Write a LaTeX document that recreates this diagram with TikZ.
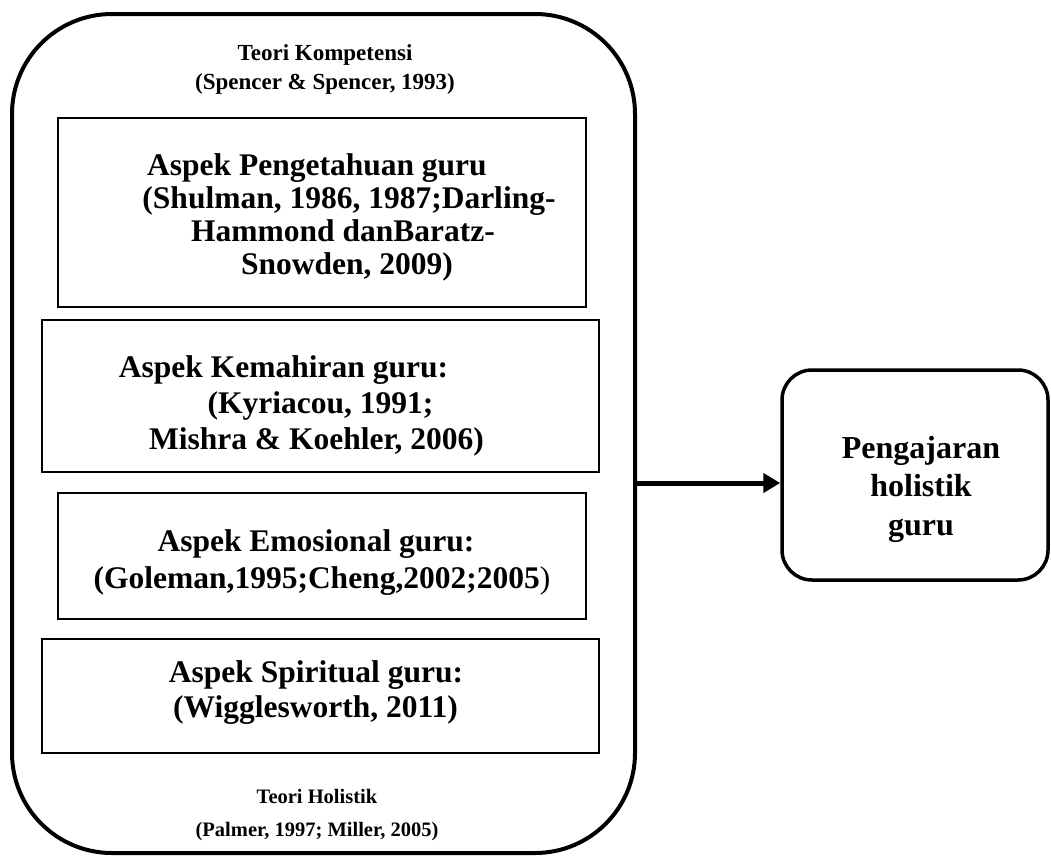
\documentclass[tikz,border=0pt]{standalone}
\usepackage{fontspec}
\setmainfont{Liberation Serif}
\usetikzlibrary{arrows.meta}

\newcommand{\lift}[1]{\rule{0pt}{#1}}
\newcommand{\sink}[1]{\rule[-#1]{0pt}{#1}}

\tikzset{
	aspect/.style = {draw, line width=2.5pt, align=center, inner sep=0pt,
		font=\fontsize{31.5}{33}\selectfont\bfseries},
	caption/.style = {align=center, inner sep=0pt},
	flow/.style = {line width=5pt, -{Triangle[length=17pt,width=19pt]}}
}

\begin{document}
\begin{tikzpicture}[x=1pt, y=-1pt]
	\useasboundingbox (0,0) rectangle (1051,855);
	\node[draw, line width=4pt, rounded corners=100pt, minimum width=623pt, minimum height=839pt] (frame) at (323.5,433.5) {};
	\node[caption, font=\fontsize{23}{29}\selectfont\bfseries] (kompetensi) at (325,67) {\lift{21pt}Teori Kompetensi\\(Spencer \& Spencer, 1993)};
	\node[aspect, minimum width=528pt, minimum height=189pt] (pengetahuan) at (322,212.5)
		{\lift{31.5pt}Aspek Pengetahuan guru\hspace*{10pt}\\\hspace*{54pt}(Shulman, 1986, 1987;Darling-\\\hspace*{42pt}Hammond danBaratz-\\\hspace*{50pt}Snowden, 2009)};
	\node[aspect, minimum width=557pt, minimum height=152pt, font=\fontsize{31.5}{36}\selectfont\bfseries] (kemahiran) at (320.5,396)
		{\lift{41.5pt}Aspek Kemahiran guru:\hspace*{74pt}\\(Kyriacou, 1991;\hspace*{7pt}\\Mishra \& Koehler, 2006)\hspace*{8pt}};
	\node[aspect, minimum width=528pt, minimum height=126pt, font=\fontsize{31.5}{37}\selectfont\bfseries] (emosional) at (322,556)
		{\lift{35.5pt}Aspek Emosional guru:\hspace*{12pt}\\(Goleman,1995;Cheng,2002;2005{\mdseries)}};
	\node[aspect, minimum width=557pt, minimum height=114pt, font=\fontsize{31.5}{35}\selectfont\bfseries] (spiritual) at (320.5,696)
		{Aspek Spiritual guru:\hspace*{9pt}\\(Wigglesworth, 2011)\hspace*{10pt}\sink{13pt}};
	\node[caption, font=\fontsize{20.5}{33}\selectfont\bfseries] (holistik) at (317,815.5) {Teori Holistik\\(Palmer, 1997; Miller, 2005)};
	\node[draw, line width=3.5pt, rounded corners=30pt, minimum width=266pt, minimum height=210pt, align=center,
		font=\fontsize{32}{38.5}\selectfont\bfseries] (pengajaran) at (915,475)
		{\lift{51pt}\hspace*{12pt}Pengajaran\\\hspace*{12pt}holistik\\\hspace*{12pt}guru};
	\coordinate (join) at ([yshift=-8pt]pengajaran.west);
	\draw[flow] (join -| frame.east) -- (join);
\end{tikzpicture}
\end{document}
